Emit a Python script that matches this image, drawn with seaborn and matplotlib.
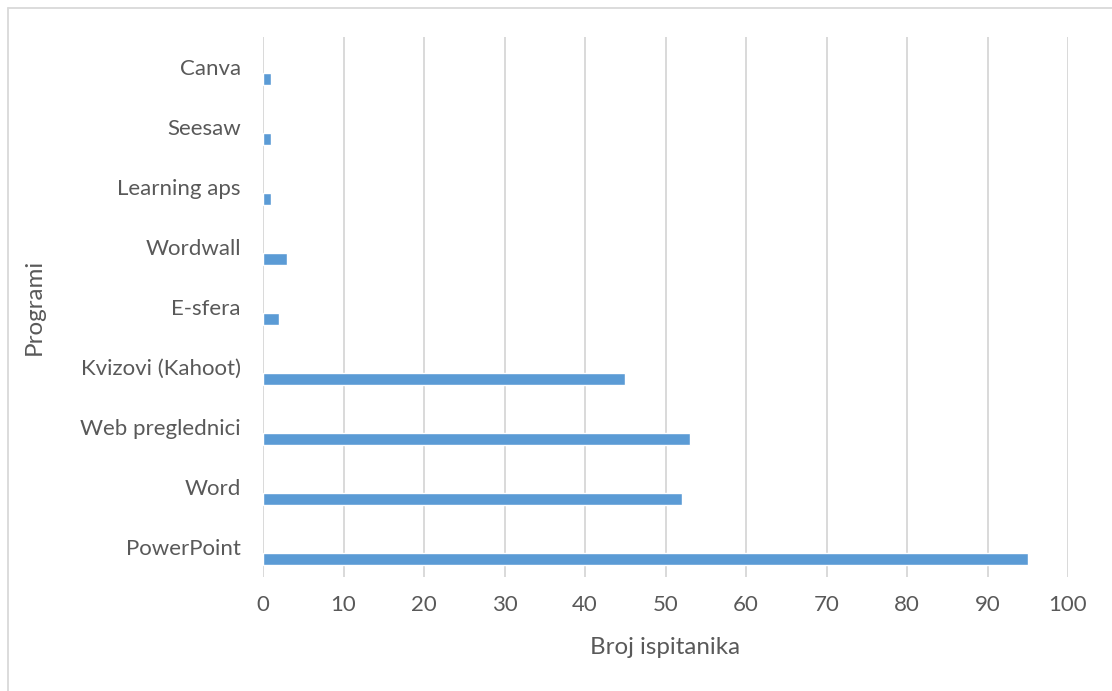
import matplotlib
matplotlib.use("Agg")
import matplotlib.pyplot as plt
import seaborn as sns
import pandas as pd
from matplotlib.lines import Line2D

# data (top to bottom)
programi = ["Canva", "Seesaw", "Learning aps", "Wordwall", "E-sfera",
            "Kvizovi (Kahoot)", "Web preglednici", "Word", "PowerPoint"]
broj = [1, 1, 1, 3, 2, 45, 53, 52, 95]
x_ticks = list(range(0, 101, 10))

df = pd.DataFrame({"Programi": programi, "Broj ispitanika": broj})

sns.set_style("white")
plt.rcParams["font.family"] = ["Lato", "DejaVu Sans"]
txt = "#595959"
grid = "#D9D9D9"

fig = plt.figure(figsize=(11.12, 6.91), dpi=100)
ax = fig.add_axes([263 / 1112, 1 - 577 / 691, 805 / 1112, 540 / 691])

sns.barplot(data=df, y="Programi", x="Broj ispitanika", orient="h",
            color="#5B9BD5", saturation=1, width=0.2, ax=ax)
# Excel-like offset: bar sits below its category label
for p in ax.patches:
    p.set_y(p.get_y() + 0.2)

ax.set_xlim(0, 100)
ax.set_ylim(8.5, -0.5)
ax.set_xticks(x_ticks)
ax.xaxis.grid(True, color=grid, lw=1.4)
ax.yaxis.grid(False)
ax.set_axisbelow(True)
for s in ax.spines.values():
    s.set_visible(False)

ax.tick_params(axis="x", length=0, colors=txt, labelsize=16, pad=13)
ax.tick_params(axis="y", length=0, colors=txt, labelsize=16, pad=16)

ax.set_xlabel("Broj ispitanika", color=txt, fontsize=17.4)
ax.set_ylabel("Programi", color=txt, fontsize=17.4)
ax.xaxis.set_label_coords(0.5, (577 - 637) / 540)
ax.yaxis.set_label_coords((45 - 263) / 805, 0.5)

# light chart-area border (only top and left visible)
fig.add_artist(Line2D([7.5 / 1112, 7.5 / 1112], [0, 1 - 7.5 / 691],
                      transform=fig.transFigure, color=grid, lw=1.3))
fig.add_artist(Line2D([7.5 / 1112, 1], [1 - 7.5 / 691, 1 - 7.5 / 691],
                      transform=fig.transFigure, color=grid, lw=1.3))

fig.savefig("out.png", dpi=100)
